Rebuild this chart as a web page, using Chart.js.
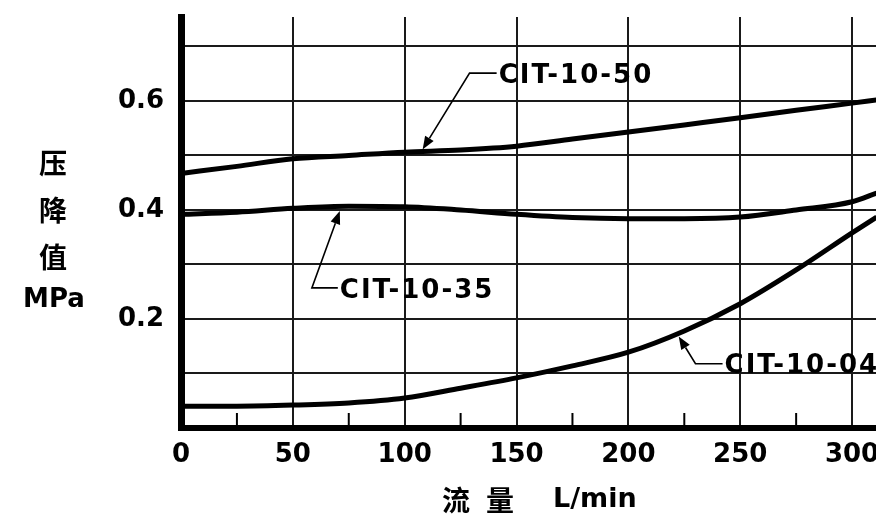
<!DOCTYPE html>
<html>
<head>
<meta charset="utf-8">
<script src="https://cdn.jsdelivr.net/npm/chart.js@4.4.1/dist/chart.umd.min.js"></script>
<style>
  html, body { margin: 0; padding: 0; background: #fff; }
  #wrap { width: 876px; height: 524px; }
</style>
</head>
<body>
<div id="wrap"><canvas id="drop-chart" width="876" height="524"></canvas></div>
<script>
// flow L/min and pressure drop MPa
const flow = [0, 25, 50, 75, 100, 125, 150, 175, 200, 225, 250, 275, 300, 311];
const cit1050 = [0.467, 0.48, 0.494, 0.5, 0.506, 0.51, 0.517, 0.53, 0.543, 0.556, 0.569, 0.583, 0.596, 0.602];
const cit1035 = [0.392, 0.396, 0.403, 0.407, 0.406, 0.4, 0.392, 0.386, 0.384, 0.384, 0.387, 0.4, 0.415, 0.431];
const cit1004 = [0.04, 0.04, 0.042, 0.046, 0.055, 0.073, 0.092, 0.114, 0.139, 0.178, 0.228, 0.29, 0.358, 0.387];
const seriesNames = ["CIT-10-50", "CIT-10-35", "CIT-10-04"];
const yLabelTicks = [0.2, 0.4, 0.6];
const minorTicks = [25, 75, 125, 175, 225, 275];

// callouts, in data units: arrow tip, elbow of leader, text start
const callouts = [
  { text: seriesNames[0], tip: [108, 0.511], elbow: [129, 0.651], label: [142, 0.651] },
  { text: seriesNames[1], tip: [71, 0.398], elbow: [58.5, 0.257], label: [71, 0.257] },
  { text: seriesNames[2], tip: [222.5, 0.168], elbow: [230, 0.118], label: [243, 0.118] }
];

const FONT = "DejaVu Sans";

function toPoints(ys) {
  return flow.map((x, i) => ({ x: x, y: ys[i] }));
}

function makeSet(label, ys) {
  return {
    label: label,
    data: toPoints(ys),
    borderColor: "#000",
    borderWidth: 5,
    pointRadius: 0,
    fill: false,
    cubicInterpolationMode: "monotone"
  };
}

const extrasPlugin = {
  id: "extras",
  afterDraw(chart) {
    const ctx = chart.ctx;
    const xs = chart.scales.x;
    const ys = chart.scales.y;
    const area = chart.chartArea;
    ctx.save();

    // minor ticks on flow axis
    ctx.strokeStyle = "#000";
    ctx.lineWidth = 2;
    minorTicks.forEach((v) => {
      const px = xs.getPixelForValue(v);
      ctx.beginPath();
      ctx.moveTo(px, area.bottom - 15);
      ctx.lineTo(px, area.bottom);
      ctx.stroke();
    });

    // callouts
    callouts.forEach((c) => {
      const tx = xs.getPixelForValue(c.tip[0]);
      const ty = ys.getPixelForValue(c.tip[1]);
      const ex = xs.getPixelForValue(c.elbow[0]);
      const ey = ys.getPixelForValue(c.elbow[1]);
      const lx = xs.getPixelForValue(c.label[0]);
      const ly = ys.getPixelForValue(c.label[1]);
      const ang = Math.atan2(ty - ey, tx - ex);
      const len = 13;
      const bx = tx - Math.cos(ang) * len;
      const by = ty - Math.sin(ang) * len;

      ctx.lineWidth = 1.6;
      ctx.beginPath();
      ctx.moveTo(lx - 2, ey);
      ctx.lineTo(ex, ey);
      ctx.lineTo(bx, by);
      ctx.stroke();

      ctx.fillStyle = "#000";
      ctx.beginPath();
      ctx.moveTo(tx, ty);
      ctx.lineTo(bx + Math.sin(ang) * 5, by - Math.cos(ang) * 5);
      ctx.lineTo(bx - Math.sin(ang) * 5, by + Math.cos(ang) * 5);
      ctx.closePath();
      ctx.fill();

      ctx.font = "bold 26px '" + FONT + "'";
      ctx.letterSpacing = "2px";
      ctx.textAlign = "left";
      ctx.textBaseline = "middle";
      ctx.fillText(c.text, lx, ly + 3);
    });
    ctx.letterSpacing = "0px";

    // axis titles
    ctx.fillStyle = "#000";
    ctx.textAlign = "center";
    ctx.textBaseline = "middle";
    ctx.font = "bold 28px 'Noto Sans CJK SC'";
    ctx.fillText("压", 53, 163);
    ctx.fillText("降", 53, 210);
    ctx.fillText("值", 53, 257);
    ctx.font = "bold 26px '" + FONT + "'";
    ctx.fillText("MPa", 54, 300);

    ctx.font = "bold 28px 'Noto Sans CJK SC'";
    ctx.fillText("流", 456, 500);
    ctx.fillText("量", 500, 500);
    ctx.font = "bold 27px '" + FONT + "'";
    ctx.textAlign = "left";
    ctx.fillText("L/min", 553, 500);

    ctx.restore();
  }
};

let dropChart = null;

function initChart() {
  const ctx = document.getElementById("drop-chart").getContext("2d");

  dropChart = new Chart(ctx, {
    type: "line",
    data: {
      datasets: [
        makeSet(seriesNames[0], cit1050),
        makeSet(seriesNames[1], cit1035),
        makeSet(seriesNames[2], cit1004)
      ]
    },
    options: {
      responsive: false,
      animation: false,
      layout: {
        padding: { top: 17, left: 0, right: 0, bottom: 0 }
      },
      plugins: {
        legend: { display: false },
        tooltip: { enabled: false }
      },
      scales: {
        x: {
          type: "linear",
          min: 0,
          max: 310.7,
          grid: { color: "#1a1a1a", lineWidth: 2, drawTicks: false },
          border: { display: true, color: "#000", width: 6 },
          ticks: {
            stepSize: 50,
            includeBounds: false,
            padding: 12,
            maxRotation: 0,
            color: "#000",
            font: { family: FONT, size: 26, weight: "bold" }
          },
          afterFit(scale) {
            scale.height = 96;
            scale.paddingLeft = 0;
            scale.paddingRight = 0;
          }
        },
        y: {
          min: 0,
          max: 0.754,
          grid: { color: "#1a1a1a", lineWidth: 2, drawTicks: false },
          border: { display: true, color: "#000", width: 7 },
          ticks: {
            stepSize: 0.1,
            includeBounds: false,
            padding: 17,
            color: "#000",
            font: { family: FONT, size: 26, weight: "bold" },
            callback: (v) => {
              const hit = yLabelTicks.find((t) => Math.abs(t - v) < 1e-6);
              return hit ? hit.toFixed(1) : "";
            }
          },
          afterFit(scale) {
            scale.width = 181;
            scale.paddingTop = 0;
            scale.paddingBottom = 0;
          }
        }
      }
    },
    plugins: [extrasPlugin]
  });
}

initChart();
</script>
</body>
</html>
